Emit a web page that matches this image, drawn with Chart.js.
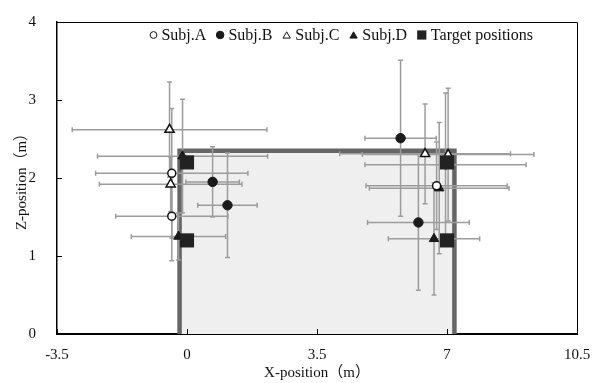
<!DOCTYPE html>
<html>
<head>
<meta charset="utf-8">
<script src="https://cdn.jsdelivr.net/npm/chart.js@4.4.0/dist/chart.umd.min.js"></script>
<style>
    html, body { margin: 0; padding: 0; background: #fff; }
    #wrap { width: 600px; height: 383px; }
</style>
</head>
<body>
<div id="wrap"><canvas id="chart"></canvas></div>
<script>
// values (m)
const xTicks = [-3.5, 0, 3.5, 7, 10.5];
const yTicks = [0, 1, 2, 3, 4];

const aX = [-0.41, -0.41, 6.96, 6.72];
const aY = [2.06, 1.51, 2.17, 1.90];
const aXErr = [2.05, 1.51, 2.17, 1.90];
const aYErr = [0.83, 0.57, 0.92, 0.56];

const bX = [0.69, 1.09, 5.75, 6.23];
const bY = [1.95, 1.65, 2.51, 1.43];
const bXErr = [0.72, 0.80, 0.96, 1.37];
const bYErr = [0.45, 0.67, 1.00, 0.87];

const cX = [-0.47, -0.44, 6.41, 7.03];
const cY = [2.62, 1.92, 2.31, 2.30];
const cXErr = [2.62, 1.92, 2.30, 2.31];
const cYErr = [0.61, 0.35, 0.64, 0.85];

const dX = [-0.12, -0.23, 6.79, 6.65];
const dY = [2.28, 1.25, 1.87, 1.22];
const dXErr = [2.29, 1.27, 1.88, 1.23];
const dYErr = [0.73, 0.30, 0.84, 0.72];

const targetX = [0, 0, 7, 7];
const targetY = [1.2, 2.2, 1.2, 2.2];

// shaded area
const areaX = [-0.2, -0.2, 7.2, 7.2];
const areaY = [0, 2.35, 2.35, 0];

const FONT = "'Liberation Serif', 'Noto Sans CJK JP', serif";

function pts(xs, ys, xe, ye) {
    return xs.map((x, i) => ({x: x, y: ys[i], xe: xe ? xe[i] : 0, ye: ye ? ye[i] : 0}));
}

const errorBars = {
    id: 'errorBars',
    afterDatasetDraw(chart, args) {
        // draw right after the shaded area, so markers sit on top
        if (args.index !== 5) return;
        const ctx = chart.ctx;
        const xs = chart.scales.x, ys = chart.scales.y;
        const cap = 2.5;
        ctx.save();
        ctx.strokeStyle = '#9c9c9c';
        ctx.lineWidth = 1.5;
        for (let i = 0; i < 4; i++) {
            chart.data.datasets[i].data.forEach(p => {
                const px = xs.getPixelForValue(p.x), py = ys.getPixelForValue(p.y);
                const x0 = xs.getPixelForValue(p.x - p.xe), x1 = xs.getPixelForValue(p.x + p.xe);
                const y0 = ys.getPixelForValue(p.y - p.ye), y1 = ys.getPixelForValue(p.y + p.ye);
                ctx.beginPath();
                ctx.moveTo(x0, py); ctx.lineTo(x1, py);
                ctx.moveTo(x0, py - cap); ctx.lineTo(x0, py + cap);
                ctx.moveTo(x1, py - cap); ctx.lineTo(x1, py + cap);
                ctx.moveTo(px, y0); ctx.lineTo(px, y1);
                ctx.moveTo(px - cap, y0); ctx.lineTo(px + cap, y0);
                ctx.moveTo(px - cap, y1); ctx.lineTo(px + cap, y1);
                ctx.stroke();
            });
        }
        ctx.restore();
    }
};

const frame = {
    id: 'frame',
    afterDraw(chart) {
        const ctx = chart.ctx, a = chart.chartArea;
        const xs = chart.scales.x, ys = chart.scales.y;
        ctx.save();
        ctx.strokeStyle = '#000';
        ctx.lineWidth = 1;
        ctx.beginPath();
        ctx.moveTo(a.left, a.top + 0.5); ctx.lineTo(a.right + 0.5, a.top + 0.5);
        ctx.lineTo(a.right + 0.5, a.bottom);
        ctx.stroke();
        // tick marks pointing inwards
        ctx.beginPath();
        xTicks.forEach(v => {
            const px = Math.round(xs.getPixelForValue(v)) + 0.5;
            ctx.moveTo(px, a.bottom); ctx.lineTo(px, a.bottom - 5);
        });
        yTicks.forEach(v => {
            const py = Math.round(ys.getPixelForValue(v)) + 0.5;
            ctx.moveTo(a.left, py); ctx.lineTo(a.left + 5, py);
        });
        ctx.stroke();
        ctx.restore();
    }
};

// legend drawn inside the plot, right-aligned like the original
const innerLegend = {
    id: 'innerLegend',
    afterDraw(chart, args, opts) {
        const ctx = chart.ctx;
        const sizes = opts.markerRadius;
        ctx.save();
        ctx.font = '16px ' + FONT;
        ctx.textBaseline = 'middle';
        const items = chart.data.datasets.slice(0, 5);
        const widths = items.map((ds, i) => sizes[i] * 2 + 4.5 + ctx.measureText(ds.label).width);
        const gap = 10;
        const total = widths.reduce((s, w) => s + w, 0) + gap * (items.length - 1);
        let x = opts.right - total;
        const y = opts.y;
        items.forEach((ds, i) => {
            const r = sizes[i];
            ctx.fillStyle = ds.backgroundColor;
            ctx.strokeStyle = ds.borderColor;
            Chart.helpers.drawPoint(ctx, {
                pointStyle: ds.pointStyle, rotation: 0,
                radius: ds.pointStyle === 'rect' ? r * Math.SQRT2 : r,
                borderWidth: ds.pointStyle === 'rect' ? 0 : 1.3
            }, x + r, ds.pointStyle === 'triangle' ? y + 1 : y);
            ctx.fillStyle = '#111';
            ctx.fillText(ds.label, x + r * 2 + 4.5, y + 1);
            x += widths[i] + gap;
        });
        ctx.restore();
    }
};

new Chart(document.getElementById('chart'), {
    type: 'scatter',
    data: {
        datasets: [
            {label: 'Subj.A', data: pts(aX, aY, aXErr, aYErr), pointStyle: 'circle', pointRadius: 4,
                backgroundColor: '#fff', borderColor: '#111', borderWidth: 1.5, order: 1},
            {label: 'Subj.B', data: pts(bX, bY, bXErr, bYErr), pointStyle: 'circle', pointRadius: 4.7,
                backgroundColor: '#1a1a1a', borderColor: '#1a1a1a', borderWidth: 1, order: 1},
            {label: 'Subj.C', data: pts(cX, cY, cXErr, cYErr), pointStyle: 'triangle', pointRadius: 5.3,
                backgroundColor: '#fff', borderColor: '#111', borderWidth: 1.5, order: 1},
            {label: 'Subj.D', data: pts(dX, dY, dXErr, dYErr), pointStyle: 'triangle', pointRadius: 5.5,
                backgroundColor: '#1a1a1a', borderColor: '#1a1a1a', borderWidth: 1, order: 1},
            {label: 'Target positions', data: pts(targetX, targetY), pointStyle: 'rect', pointRadius: 10,
                backgroundColor: '#222', borderColor: '#222', borderWidth: 0, order: 0},
            {label: 'area', type: 'line', data: pts(areaX, areaY), showLine: true, pointRadius: 0,
                fill: 'origin', backgroundColor: '#efefef', borderColor: '#666', borderWidth: 4.5,
                tension: 0, order: 2}
        ]
    },
    options: {
        animation: false,
        responsive: true,
        maintainAspectRatio: false,
        events: [],
        layout: {padding: {top: 16, right: 23, left: 0, bottom: 0}},
        plugins: {
            tooltip: {enabled: false},
            legend: {display: false},
            innerLegend: {right: 533, y: 35, markerRadius: [3.4, 3.8, 4.2, 4.2, 4.6]}
        },
        scales: {
            x: {
                type: 'linear',
                min: -3.5, max: 10.5,
                afterBuildTicks: s => { s.ticks = xTicks.map(v => ({value: v})); },
                afterFit: s => { s.height = 49; },
                grid: {display: false},
                border: {color: '#000', width: 2},
                ticks: {color: '#111', font: {family: FONT, size: 15}, padding: 4,
                    callback: v => String(v)},
                title: {display: true, text: 'X-position（m）', color: '#111',
                    font: {family: FONT, size: 15}, padding: {top: 0, bottom: 1}}
            },
            y: {
                type: 'linear',
                min: 0, max: 4,
                afterBuildTicks: s => { s.ticks = yTicks.map(v => ({value: v})); },
                afterFit: s => { s.width = 57; },
                grid: {display: false},
                border: {color: '#000', width: 1.5},
                ticks: {color: '#111', font: {family: FONT, size: 15}, padding: 13,
                    callback: v => String(v)},
                title: {display: true, text: 'Z-position（m）', color: '#111',
                    font: {family: FONT, size: 15}, padding: {top: 13, bottom: 0}}
            }
        }
    },
    plugins: [errorBars, frame, innerLegend]
});
</script>
</body>
</html>
